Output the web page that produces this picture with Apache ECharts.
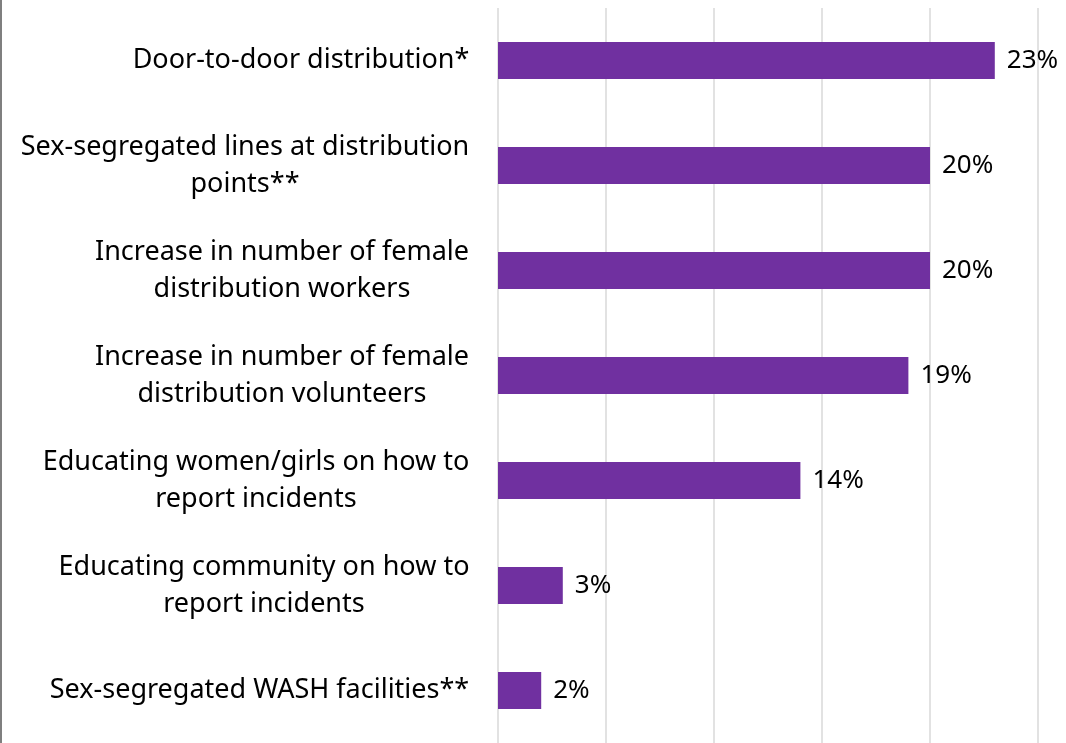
<!DOCTYPE html>
<html>
<head>
<meta charset="utf-8">
<script src="https://cdn.jsdelivr.net/npm/echarts@6/dist/echarts.min.js"></script>
<style>
  html, body { margin: 0; padding: 0; background: #ffffff; }
  #chart { width: 1066px; height: 743px; }
</style>
</head>
<body>
<div id="chart"></div>
<script>
const categories = [
  "Door-to-door distribution*",
  "Sex-segregated lines at distribution\npoints**",
  "Increase in number of female\ndistribution workers",
  "Increase in number of female\ndistribution volunteers",
  "Educating women/girls on how to\nreport incidents",
  "Educating community on how to\nreport incidents",
  "Sex-segregated WASH facilities**"
];
const values = [23, 20, 20, 19, 14, 3, 2];
const xTicks = [0, 5, 10, 15, 20, 25];

const FONT_FAMILY = '"Noto Sans", Lato, sans-serif';
const FONT_SIZE = 27;
const VALUE_FONT_SIZE = 26;
const LINE_H = 37;

const ctx = document.createElement('canvas').getContext('2d');
ctx.font = FONT_SIZE + 'px ' + FONT_FAMILY;
const rich = {};
categories.forEach((c, i) => {
  const w = Math.max(...c.split('\n').map(l => ctx.measureText(l).width));
  rich['c' + i] = {
    width: Math.ceil(w) + 1,
    align: 'center',
    fontSize: FONT_SIZE,
    fontFamily: FONT_FAMILY,
    color: '#000000',
    lineHeight: LINE_H
  };
});

const chart = echarts.init(document.getElementById('chart'), null, { renderer: 'canvas' });
chart.setOption({
  animation: false,
  backgroundColor: '#ffffff',
  grid: { left: 498, right: 28, top: 8, bottom: -2, containLabel: false },
  xAxis: {
    type: 'value',
    min: xTicks[0],
    max: xTicks[xTicks.length - 1],
    interval: xTicks[1] - xTicks[0],
    axisLine: { show: false },
    axisTick: { show: false },
    axisLabel: { show: false },
    splitLine: { show: true, lineStyle: { color: '#d9d9d9', width: 1.5 } }
  },
  yAxis: {
    type: 'category',
    inverse: true,
    data: categories,
    axisLine: { show: false },
    axisTick: { show: false },
    splitLine: { show: false },
    axisLabel: {
      margin: 28,
      align: 'right',
      formatter: function (value, index) {
        return value.split('\n').map(l => '{c' + index + '|' + l + '}').join('\n');
      },
      rich: rich
    }
  },
  series: [{
    type: 'bar',
    data: values,
    barWidth: 37,
    itemStyle: { color: '#7030A0' },
    label: {
      show: true,
      position: 'right',
      distance: 12,
      formatter: '{c}%',
      fontSize: VALUE_FONT_SIZE,
      fontFamily: FONT_FAMILY,
      color: '#000000'
    }
  }],
  graphic: [{
    type: 'line',
    shape: { x1: 1, y1: 0, x2: 1, y2: 743 },
    style: { stroke: '#7f7f7f', lineWidth: 2 }
  }]
});
</script>
</body>
</html>
